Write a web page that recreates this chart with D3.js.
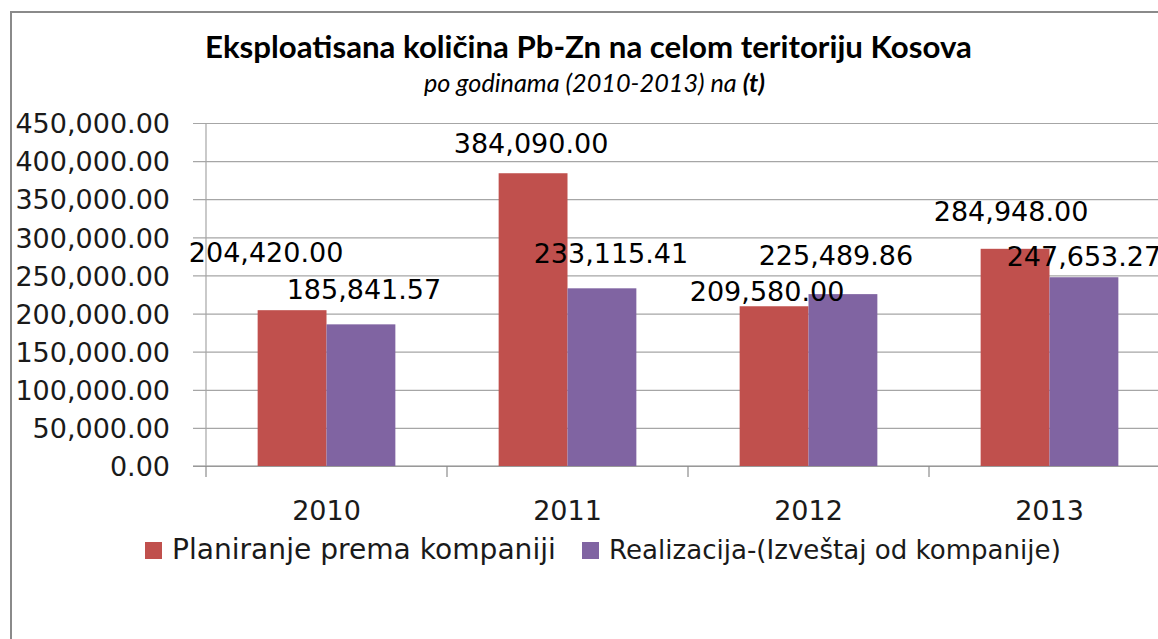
<!DOCTYPE html>
<html><head><meta charset="utf-8">
<script src="https://cdn.jsdelivr.net/npm/d3@7"></script>
<style>body{margin:0;background:#fff;overflow:hidden}svg{display:block}</style>
</head><body>
<svg id="c" width="1158" height="639"></svg>
<script>
const categories = ["2010", "2011", "2012", "2013"];
const seriesNames = ["Planiranje prema kompaniji", "Realizacija-(Izveštaj od kompanije)"];
const planned = [204420.00, 384090.00, 209580.00, 284948.00];
const realized = [185841.57, 233115.41, 225489.86, 247653.27];
const yTicks = [0, 50000, 100000, 150000, 200000, 250000, 300000, 350000, 400000, 450000];
const colors = ["#C0504D", "#8064A2"];
// manual label nudges (dx, dy from bar centre / bar top), as placed in the original
const labelNudgePlanned = [[-26, -48], [-2, -20], [-7, -5], [-4, -28]];
const labelNudgeRealized = [[3, -25], [9, -25], [-7, -29], [0, -11]];

const svg = d3.select("#c");
const FONT = "'DejaVu Sans', sans-serif";
const fmt = d3.format(",.2f");

function fit(sel, target) {
  const w = sel.node().getComputedTextLength();
  const fs = parseFloat(sel.attr("font-size"));
  sel.attr("font-size", fs * target / w);
}

// chart border
svg.append("path").attr("d", "M11,639 V12 H1158").attr("fill", "none")
  .attr("stroke", "#8a8a8a").attr("stroke-width", 2);

const x0 = d3.scaleBand().domain(categories).range([206, 1170]).paddingInner(0).paddingOuter(0);
const y = d3.scaleLinear().domain([0, 450000]).range([466, 123]);
const bw = x0.bandwidth() / 3.5;
const x1 = d3.scaleBand().domain([0, 1]).range([x0.bandwidth() / 2 - bw, x0.bandwidth() / 2 + bw]);

// gridlines + y axis
const yAxis = d3.axisLeft(y).tickValues(yTicks).tickSize(-(1170 - 193)).tickPadding(0).tickFormat(fmt);
const gy = svg.append("g").attr("transform", "translate(193,0)").call(yAxis);
gy.select(".domain").remove();
gy.selectAll(".tick line").attr("stroke", "#a6a6a6").attr("stroke-width", 1.2);
gy.selectAll(".tick text").attr("x", -23).attr("font-family", FONT).attr("font-size", 27)
  .attr("fill", "#1a1a1a").attr("dy", "0.36em");

// x axis
const gx = svg.append("g").attr("transform", "translate(0,466)")
  .call(d3.axisBottom(x0).tickSize(0).tickPadding(0));
gx.select(".domain").attr("stroke", "#8c8c8c").attr("stroke-width", 1.2).attr("d", "M193,0H1170");
gx.selectAll(".tick text").attr("font-family", FONT).attr("font-size", 27).attr("fill", "#1a1a1a")
  .attr("dy", 0).attr("y", 54);
// category boundary ticks
svg.append("g").selectAll("line").data(categories).join("line")
  .attr("x1", d => x0(d)).attr("x2", d => x0(d)).attr("y1", 466).attr("y2", 477)
  .attr("stroke", "#8c8c8c").attr("stroke-width", 1.2);
svg.append("line").attr("x1", 206).attr("x2", 206).attr("y1", 123).attr("y2", 466)
  .attr("stroke", "#a6a6a6").attr("stroke-width", 1.2);

// bars
const rows = categories.map((c, i) => ({ c, vals: [planned[i], realized[i]], nudges: [labelNudgePlanned[i], labelNudgeRealized[i]] }));
const groups = svg.append("g").selectAll("g").data(rows).join("g")
  .attr("transform", d => `translate(${x0(d.c)},0)`);
groups.selectAll("rect").data(d => d.vals.map((v, k) => ({ v, k }))).join("rect")
  .attr("x", d => x1(d.k)).attr("width", x1.bandwidth())
  .attr("y", d => y(d.v)).attr("height", d => y(0) - y(d.v))
  .attr("fill", d => colors[d.k]);
groups.selectAll("text").data(d => d.vals.map((v, k) => ({ v, k, n: d.nudges[k] }))).join("text")
  .attr("x", d => x1(d.k) + x1.bandwidth() / 2 + d.n[0])
  .attr("y", d => y(d.v) + d.n[1])
  .attr("text-anchor", "middle").attr("font-family", FONT).attr("font-size", 27)
  .attr("fill", "#000").text(d => fmt(d.v));

// legend
const legX = [145, 582];
const legW = [384, 452];
const leg = svg.append("g").selectAll("g").data(seriesNames).join("g");
leg.append("rect").attr("x", (d, i) => legX[i]).attr("y", 542).attr("width", 17).attr("height", 17)
  .attr("fill", (d, i) => colors[i]);
leg.append("text").attr("x", (d, i) => legX[i] + 27).attr("y", 559)
  .attr("font-family", FONT).attr("font-size", 27).attr("fill", "#1a1a1a").text(d => d)
  .each(function (d, i) { fit(d3.select(this), legW[i]); });

// title
const title = svg.append("text").attr("x", 205).attr("y", 58)
  .attr("font-family", "Lato, 'Open Sans', sans-serif").attr("font-weight", "bold")
  .attr("font-size", 28).attr("fill", "#000")
  .text("Eksploatisana količina Pb-Zn na celom teritoriju Kosova");
fit(title, 767);
const sub = svg.append("text").attr("x", 424).attr("y", 92)
  .attr("font-family", "Lato, 'Open Sans', sans-serif").attr("font-style", "italic")
  .attr("font-size", 20).attr("fill", "#000");
sub.append("tspan").text("po godinama (2010-2013) na ");
sub.append("tspan").attr("font-weight", "bold").text("(t)");
fit(sub, 341);
</script>
</body></html>
